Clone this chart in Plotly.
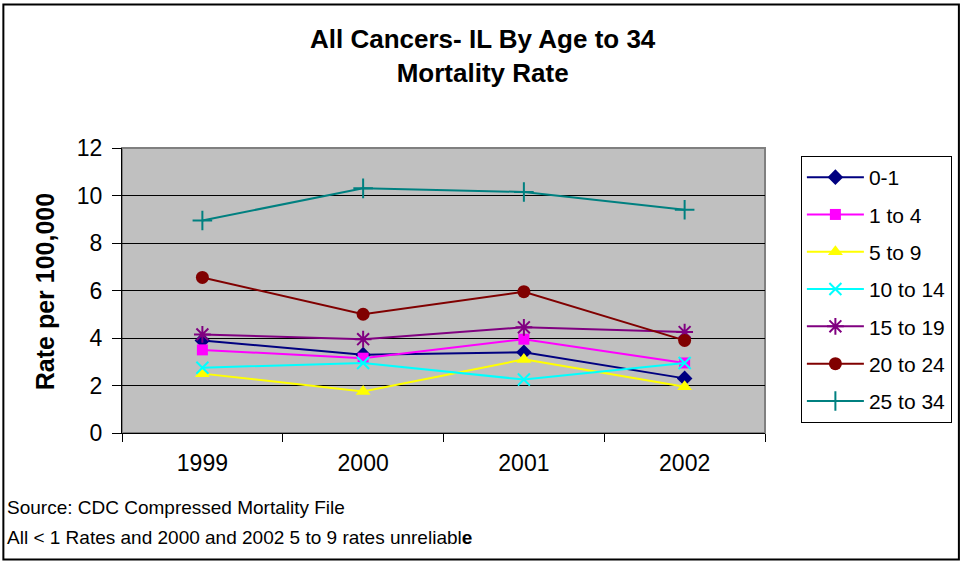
import plotly.graph_objects as go

years = ["1999", "2000", "2001", "2002"]
series_names = ["0-1", "1 to 4", "5 to 9", "10 to 14", "15 to 19", "20 to 24", "25 to 34"]
v_0_1 = [3.9, 3.3, 3.4, 2.3]
v_1_4 = [3.5, 3.15, 3.95, 2.95]
v_5_9 = [2.5, 1.75, 3.1, 1.95]
v_10_14 = [2.75, 2.95, 2.25, 2.95]
v_15_19 = [4.15, 3.95, 4.45, 4.25]
v_20_24 = [6.55, 5.0, 5.95, 3.9]
v_25_34 = [8.95, 10.3, 10.15, 9.4]
y_ticks = [0, 2, 4, 6, 8, 10, 12]

values = [v_0_1, v_1_4, v_5_9, v_10_14, v_15_19, v_20_24, v_25_34]
colors = ["#000080", "#FF00FF", "#FFFF00", "#00FFFF", "#800080", "#800000", "#008080"]
symbols = ["diamond", "square", "triangle-up", "x-thin-open", "asterisk-open", "circle", "cross-thin-open"]
sizes = [12, 11, 13, 12, 14, 13, 14]

FONT = "Liberation Sans, Arial, sans-serif"
W, H = 964, 562
L, R, T, B = 122, 767, 148, 433
pw, ph = R - L, B - T

def px(x):
    return (x - L) / pw

def py(y):
    return (B - y) / ph

fig = go.Figure()
for i, (name, vals) in enumerate(zip(series_names, values)):
    open_sym = symbols[i].endswith("open")
    fig.add_trace(go.Scatter(
        x=years, y=vals, name=name, mode="lines+markers",
        legendgroup=name,
        line=dict(color=colors[i], width=2),
        marker=dict(symbol=symbols[i], size=sizes[i], color=colors[i],
                    line=dict(color=colors[i], width=2 if open_sym else 0)),
    ))

shapes = [
    dict(type="rect", xref="paper", yref="paper", x0=px(3), x1=px(961.5), y0=py(4.5), y1=py(559.5),
         line=dict(color="black", width=2), fillcolor="rgba(0,0,0,0)", layer="above"),
    dict(type="rect", xref="paper", yref="paper", x0=0, x1=1, y0=0, y1=1,
         line=dict(color="#808080", width=2), fillcolor="rgba(0,0,0,0)", layer="below"),
]

annotations = [
    dict(text="<b>All Cancers- IL By Age to 34<br>Mortality Rate</b>", xref="paper", yref="paper",
         x=px(484), y=py(56.5), xanchor="center", yanchor="middle", showarrow=False,
         font=dict(family=FONT, size=26, color="black")),
    dict(text="<b>Rate per 100,000</b>", xref="paper", yref="paper", x=px(45), y=py(292),
         xanchor="center", yanchor="middle", textangle=-90, showarrow=False,
         font=dict(family=FONT, size=25, color="black")),
    dict(text="Source: CDC Compressed Mortality File", xref="paper", yref="paper",
         x=px(5), y=py(507), xanchor="left", yanchor="middle", showarrow=False,
         font=dict(family=FONT, size=19, color="black")),
    dict(text="All < 1 Rates and 2000 and 2002 5 to 9 rates unreliabl<b>e</b>", xref="paper", yref="paper",
         x=px(5), y=py(537), xanchor="left", yanchor="middle", showarrow=False,
         font=dict(family=FONT, size=19, color="black")),
]

fig.update_layout(
    width=W, height=H, autosize=False,
    margin=dict(l=L, r=W - R, t=T, b=H - B, pad=0),
    paper_bgcolor="white", plot_bgcolor="#C0C0C0",
    font=dict(family=FONT, color="black"),
    showlegend=True,
    legend=dict(x=px(803), y=py(156), xanchor="left", yanchor="top",
                bordercolor="black", borderwidth=1, bgcolor="white",
                font=dict(family=FONT, size=21, color="black"),
                tracegroupgap=7, itemwidth=57, traceorder="grouped"),
    shapes=shapes, annotations=annotations,
)
fig.update_xaxes(type="category", range=[-0.5, 3.5], showgrid=False, zeroline=False,
                 showline=True, linecolor="black", linewidth=1,
                 ticks="outside", tickson="boundaries", ticklen=8, tickcolor="black",
                 tickfont=dict(family=FONT, size=23, color="black"), ticklabelstandoff=9)
fig.update_yaxes(range=[0, 12], tickvals=y_ticks, showgrid=True, gridcolor="black", gridwidth=1,
                 zeroline=False, showline=True, linecolor="black", linewidth=1,
                 ticks="outside", ticklen=9, tickcolor="black",
                 tickfont=dict(family=FONT, size=23, color="black"), ticklabelstandoff=5)

fig.write_html("out.html", config={"displayModeBar": False},
               post_script="document.body.style.margin='0px';document.body.style.overflow='hidden';")
